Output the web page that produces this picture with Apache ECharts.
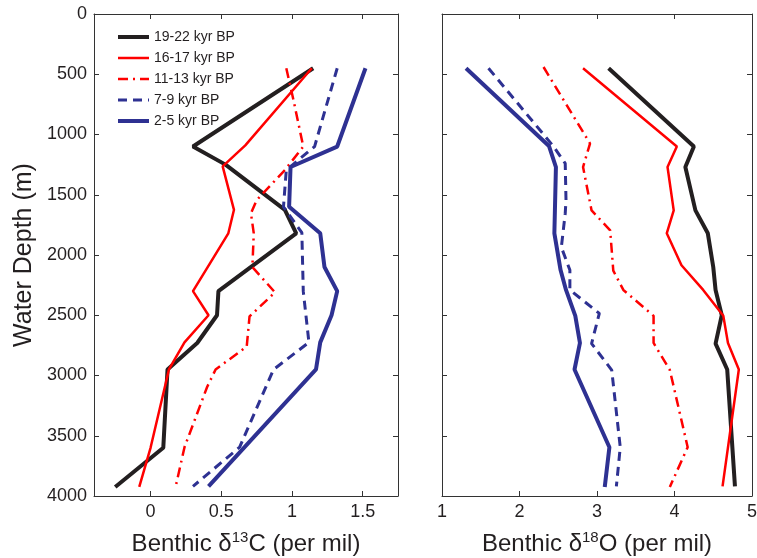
<!DOCTYPE html>
<html>
<head>
<meta charset="utf-8">
<script src="https://cdn.jsdelivr.net/npm/echarts@6/dist/echarts.min.js"></script>
<style>
html, body { margin: 0; padding: 0; background: #fff; }
#main { width: 757px; height: 558px; }
</style>
</head>
<body>
<div id="main"></div>
<script>
var chart = echarts.init(document.getElementById('main'));

// series names (legend order)
var names = ['19-22 kyr BP', '16-17 kyr BP', '11-13 kyr BP', '7-9 kyr BP', '2-5 kyr BP'];

// benthic d13C, pairs of [value, depth]
var c13_19_22 = [[1.15, 450], [0.30, 1100], [0.53, 1250], [0.95, 1625], [1.03, 1820], [0.48, 2300], [0.47, 2500], [0.33, 2730], [0.12, 2950], [0.09, 3600], [-0.25, 3925]];
var c13_16_17 = [[1.14, 450], [0.67, 1090], [0.51, 1265], [0.59, 1625], [0.55, 1820], [0.30, 2300], [0.41, 2500], [0.24, 2725], [0.13, 2950], [0.00, 3600], [-0.08, 3925]];
var c13_11_13 = [[0.96, 450], [1.01, 710], [1.08, 1100], [0.95, 1295], [0.75, 1545], [0.71, 1655], [0.73, 1820], [0.72, 2100], [0.88, 2310], [0.70, 2510], [0.68, 2760], [0.46, 2950], [0.40, 3095], [0.24, 3595], [0.18, 3910]];
var c13_7_9 = [[1.32, 450], [1.16, 1100], [0.96, 1295], [0.94, 1600], [1.07, 1815], [1.08, 2300], [1.12, 2725], [0.87, 2950], [0.63, 3595], [0.30, 3920]];
var c13_2_5 = [[1.52, 450], [1.32, 1100], [0.99, 1270], [0.98, 1600], [1.20, 1820], [1.23, 2100], [1.32, 2300], [1.28, 2500], [1.20, 2725], [1.17, 2950], [0.66, 3600], [0.41, 3920]];

// benthic d18O, pairs of [value, depth]
var o18_19_22 = [[3.15, 450], [4.25, 1100], [4.14, 1270], [4.27, 1630], [4.43, 1820], [4.50, 2100], [4.53, 2290], [4.61, 2500], [4.53, 2735], [4.68, 2950], [4.78, 3920]];
var o18_16_17 = [[2.82, 450], [4.03, 1100], [3.91, 1270], [3.99, 1630], [3.90, 1820], [4.09, 2085], [4.37, 2290], [4.63, 2505], [4.69, 2730], [4.83, 2950], [4.62, 3920]];
var o18_11_13 = [[2.31, 440], [2.91, 1075], [2.82, 1270], [2.93, 1630], [3.17, 1795], [3.21, 2130], [3.34, 2290], [3.73, 2505], [3.73, 2730], [3.94, 2955], [4.17, 3595], [3.94, 3925]];
var o18_7_9 = [[1.60, 450], [2.44, 1100], [2.59, 1240], [2.60, 1545], [2.59, 1655], [2.54, 1935], [2.65, 2125], [2.65, 2290], [3.03, 2485], [2.93, 2735], [3.19, 2955], [3.30, 3595], [3.25, 3920]];
var o18_2_5 = [[1.31, 450], [2.38, 1095], [2.47, 1270], [2.45, 1820], [2.53, 2125], [2.60, 2290], [2.72, 2505], [2.78, 2730], [2.71, 2950], [3.16, 3595], [3.10, 3925]];

// tick labels
var c13Ticks = [0, 0.5, 1, 1.5];
var o18Ticks = [1, 2, 3, 4, 5];

var font = 'Liberation Sans, Arial, sans-serif';
var ink = '#231f20';
var colors = ['#231f20', '#ff0000', '#ff0000', '#2e3192', '#2e3192'];
var widths = [4, 2.5, 2.5, 3, 4];
var dashes = ['solid', 'solid', [10, 5, 2, 5], [9, 6], 'solid'];

function frameX(grid, pos, min, max, ticks, showLabel, name) {
    return {
        type: 'value', gridIndex: grid, position: pos, min: min, max: max,
        splitLine: { show: false },
        axisLine: { show: true, onZero: false, lineStyle: { color: '#333', width: 1 } },
        axisTick: { show: true, inside: true, length: 5, customValues: ticks, lineStyle: { color: '#333' } },
        axisLabel: { show: showLabel, customValues: ticks, color: ink, fontSize: 18, fontFamily: font, margin: 7 },
        name: name || '', nameLocation: 'middle', nameGap: 34,
        nameTextStyle: {
            color: ink, fontSize: 24, fontFamily: font,
            rich: { sup: { fontSize: 15, fontFamily: font, color: ink, padding: [0, 0, 13, 0] } }
        }
    };
}

function frameY(grid, pos, showLabel, name) {
    return {
        type: 'value', gridIndex: grid, position: pos, min: 0, max: 4000, interval: 500, inverse: true,
        splitLine: { show: false },
        axisLine: { show: true, onZero: false, lineStyle: { color: '#333', width: 1 } },
        axisTick: { show: true, inside: true, length: 5, lineStyle: { color: '#333' } },
        axisLabel: {
            show: showLabel, color: ink, fontSize: 18, fontFamily: font, margin: 7,
            formatter: function (v) { return String(v); }
        },
        name: name || '', nameLocation: 'middle', nameGap: 57,
        nameTextStyle: { color: ink, fontSize: 25, fontFamily: font }
    };
}

var c13Data = [c13_19_22, c13_16_17, c13_11_13, c13_7_9, c13_2_5];
var o18Data = [o18_19_22, o18_16_17, o18_11_13, o18_7_9, o18_2_5];

var series = [];
names.forEach(function (n, i) {
    [[c13Data[i], 0], [o18Data[i], 2]].forEach(function (p) {
        series.push({
            name: n, type: 'line', xAxisIndex: p[1], yAxisIndex: p[1],
            data: p[0], symbol: 'none', silent: true,
            lineStyle: { color: colors[i], width: widths[i], type: dashes[i] },
            itemStyle: { color: colors[i] }
        });
    });
});

var legendData = names.map(function (n, i) {
    return {
        name: n,
        itemStyle: { opacity: 0 },
        lineStyle: { color: colors[i], width: widths[i], type: dashes[i] }
    };
});

var option = {
    animation: false,
    backgroundColor: '#fff',
    legend: {
        data: legendData, orient: 'vertical', left: 111, top: 25,
        itemWidth: 31, itemHeight: 14, itemGap: 7,
        itemStyle: { opacity: 0 },
        textStyle: { color: ink, fontSize: 14, fontFamily: font }
    },
    grid: [
        { left: 94, top: 14, width: 304, height: 482, outerBoundsMode: 'none', containLabel: false },
        { left: 442, top: 14, width: 310, height: 482, outerBoundsMode: 'none', containLabel: false }
    ],
    xAxis: [
        frameX(0, 'bottom', -0.4, 1.75, c13Ticks, true, 'Benthic δ{sup|13}C (per mil)'),
        frameX(0, 'top', -0.4, 1.75, c13Ticks, false),
        frameX(1, 'bottom', 1, 5, o18Ticks, true, 'Benthic δ{sup|18}O (per mil)'),
        frameX(1, 'top', 1, 5, o18Ticks, false)
    ],
    yAxis: [
        frameY(0, 'left', true, 'Water Depth (m)'),
        frameY(0, 'right', false),
        frameY(1, 'left', false),
        frameY(1, 'right', false)
    ],
    series: series
};

chart.setOption(option);

window.onresize = chart.resize;
</script>
</body>
</html>
